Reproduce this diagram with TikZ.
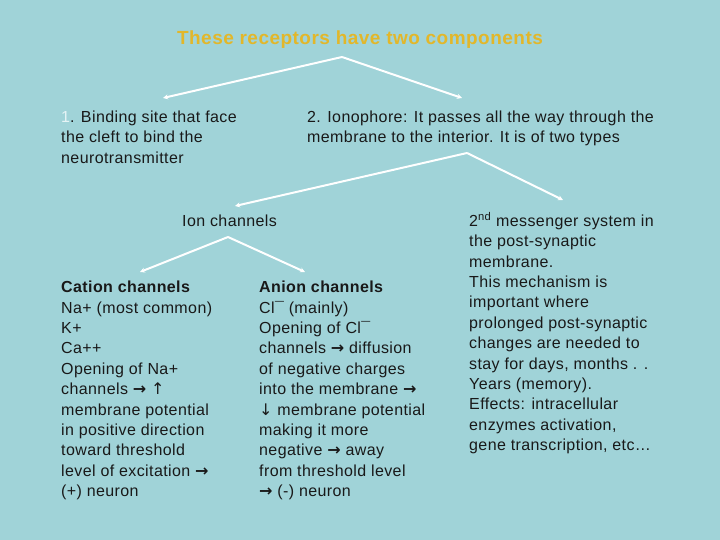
\documentclass[tikz,border=0pt]{standalone}
\usepackage{fontspec}
\setmainfont[LetterSpace=2.5]{Liberation Sans}
\newfontfamily\symfont{DejaVu Sans}
\usetikzlibrary{arrows.meta}
\definecolor{bg}{HTML}{A0D3D8}
\definecolor{gold}{HTML}{E2B72A}
\definecolor{pale}{HTML}{E6F4F6}
\newcommand{\ra}{{\symfont\bfseries →}}
\newcommand{\uparr}{{\symfont ↑}}
\newcommand{\dnarr}{{\symfont ↓}}

\begin{document}
\begin{tikzpicture}[x=1pt, y=-1pt, font=\fontsize{16}{20.4}\selectfont,
  txt/.style={anchor=north west, align=left, inner sep=0pt, text=black!90, execute at begin node=\strut},
  arr/.style={-{Stealth[length=5pt,width=5pt]}, white, line width=2pt}]
\fill[bg] (0,0) rectangle (720,540);
\useasboundingbox (0,0) rectangle (720,540);
\node[anchor=base, inner sep=0pt, text=gold, font=\fontsize{19}{22}\selectfont\bfseries] (title) at (360,45) {These receptors have two components};
\node[txt] (bind) at (61,110.7) {\textcolor{pale}{1}. Binding site that face\\the cleft to bind the\\neurotransmitter};
\node[txt] (iono) at (307,110.7) {2. Ionophore: It passes all the way through the\\membrane to the interior. It is of two types};
\node[txt] (ion) at (182,212.2) {Ion channels};
\node[txt] (cat) at (61,280.9) {\textbf{Cation channels}\\Na+ (most common)\\K+\\Ca++\\Opening of Na+\\channels \ra{} \uparr\\membrane potential\\in positive direction\\toward threshold\\level of excitation \ra\\(+) neuron};
\node[txt] (an) at (259,280.9) {\textbf{Anion channels}\\Cl¯ (mainly)\\Opening of Cl¯\\channels \ra{} diffusion\\of negative charges\\into the membrane \ra\\\dnarr{} membrane potential\\making it more\\negative \ra{} away\\from threshold level\\\ra{} (-) neuron};
\node[txt] (second) at (469,211.7) {2\textsuperscript{nd} messenger system in\\the post-synaptic\\membrane.\\This mechanism is\\important where\\prolonged post-synaptic\\changes are needed to\\stay for days, months . .\\Years (memory).\\Effects: intracellular\\enzymes activation,\\gene transcription, etc…};
% split points and arrow tips
\coordinate (fork1) at (342,57);
\coordinate (fork2) at (467,153);
\coordinate (fork3) at (228,237);
\coordinate (bindtip) at (163,98);
\coordinate (ionotip) at (462,98);
\coordinate (iontip) at (235,206);
\coordinate (secondtip) at (563,200);
\coordinate (cattip) at (140,272);
\coordinate (antip) at (305,272);
\foreach \a/\b in {fork1/bindtip, fork1/ionotip, fork2/iontip, fork2/secondtip, fork3/cattip, fork3/antip} \draw[arr] (\a) -- (\b);
\end{tikzpicture}
\end{document}
